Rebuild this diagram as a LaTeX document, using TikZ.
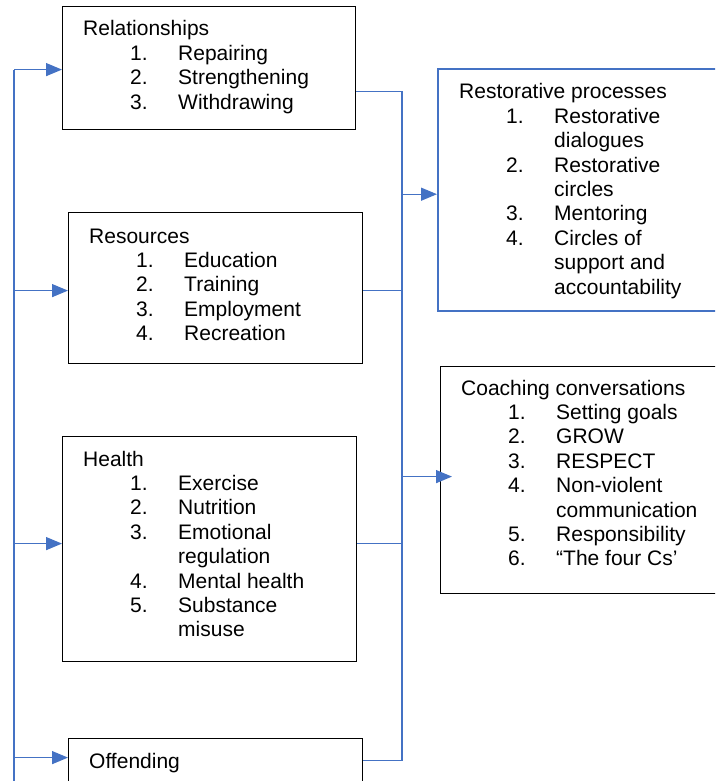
\documentclass[tikz,border=0pt]{standalone}
\usepackage{fontspec}
\setmainfont{Liberation Sans}
\usetikzlibrary{arrows.meta}
\definecolor{linkblue}{HTML}{4472C4}
% numbered list line: indent, number column, item text
\newcommand{\itm}[2]{\hspace*{47pt}\makebox[48pt][l]{#1}#2}
\newcommand{\boxtext}[1]{\begin{tabular}[t]{@{}l@{}}#1\end{tabular}}
\begin{document}
\begin{tikzpicture}[x=1pt,y=-1pt,
  font=\fontsize{21}{24.4}\selectfont,
  box/.style={draw=black, line width=1.2pt, anchor=north west, inner sep=0pt},
  bluebox/.style={box, draw=linkblue, line width=2.4pt},
  lbl/.style={anchor=base west, inner sep=0pt},
  link/.style={draw=linkblue, line width=1.3pt},
  arr/.style={link, -{Triangle[length=16pt,width=13pt]}}]
\useasboundingbox (0,0) rectangle (715,781);
\clip (0,0) rectangle (715,781);

% boxes
\node[box, minimum width=293, minimum height=123] (rel) at (62,6) {};
\node[box, minimum width=294, minimum height=151] (res) at (68,212) {};
\node[box, minimum width=294, minimum height=225] (hea) at (62,436) {};
\node[box, minimum width=294, minimum height=86] (off) at (68,738) {};
\node[bluebox, minimum width=303, minimum height=242] (rest) at (437,68) {};
\node[box, minimum width=300, minimum height=227] (coach) at (440,366) {};

% box contents
\node[lbl] (reltxt) at (83,36) {\boxtext{Relationships\\
  \itm{1.}{Repairing}\\ \itm{2.}{Strengthening}\\ \itm{3.}{Withdrawing}}};
\node[lbl] (restxt) at (89,243) {\boxtext{Resources\\
  \itm{1.}{Education}\\ \itm{2.}{Training}\\ \itm{3.}{Employment}\\ \itm{4.}{Recreation}}};
\node[lbl] (heatxt) at (83,466) {\boxtext{Health\\
  \itm{1.}{Exercise}\\ \itm{2.}{Nutrition}\\ \itm{3.}{Emotional}\\ \itm{}{regulation}\\
  \itm{4.}{Mental health}\\ \itm{5.}{Substance}\\ \itm{}{misuse}}};
\node[lbl] (offtxt) at (89,768) {Offending};
\node[lbl] (resttxt) at (459,99) {\boxtext{Restorative processes\\
  \itm{1.}{Restorative}\\ \itm{}{dialogues}\\ \itm{2.}{Restorative}\\ \itm{}{circles}\\
  \itm{3.}{Mentoring}\\ \itm{4.}{Circles of}\\ \itm{}{support and}\\ \itm{}{accountability}}};
\node[lbl] (coachtxt) at (461,395) {\boxtext{Coaching conversations\\
  \itm{1.}{Setting goals}\\ \itm{2.}{GROW}\\ \itm{3.}{RESPECT}\\ \itm{4.}{Non-violent}\\
  \itm{}{communication}\\ \itm{5.}{Responsibility}\\ \itm{6.}{“The four Cs’}}};

% connection points
\coordinate (lx) at (14,0);
\coordinate (rx) at (402,0);
\coordinate (relin) at ([yshift=-1.5pt]rel.west);
\coordinate (resin) at ([yshift=-2.5pt]res.west);
\coordinate (heain) at ([yshift=5.5pt]hea.west);
\coordinate (offin) at ([yshift=24pt]off.west);
\coordinate (relout) at ([yshift=-23.5pt]rel.east);
\coordinate (resout) at ([yshift=-2.5pt]res.east);
\coordinate (heaout) at ([yshift=5.5pt]hea.east);
\coordinate (offout) at ([yshift=21pt]off.east);
\coordinate (restin) at ([yshift=-4pt]rest.west);
\coordinate (coachin) at ([xshift=12pt,yshift=3.5pt]coach.west);
\coordinate (lbot) at (14,800);

% left trunk feeding the four areas
\draw[link] (lx |- relin) -- (lbot);
\draw[arr] (lx |- relin) -- (relin);
\draw[arr] (lx |- resin) -- (resin);
\draw[arr] (lx |- heain) -- (heain);
\draw[arr] (lx |- offin) -- (offin);

% right trunk collecting the four areas
\draw[link] (relout) -- (relout -| rx) -- (offout -| rx) -- (offout);
\draw[link] (resout) -- (resout -| rx);
\draw[link] (heaout) -- (heaout -| rx);
\draw[arr] (restin -| rx) -- (restin);
\draw[arr] (coachin -| rx) -- (coachin);
\end{tikzpicture}
\end{document}
